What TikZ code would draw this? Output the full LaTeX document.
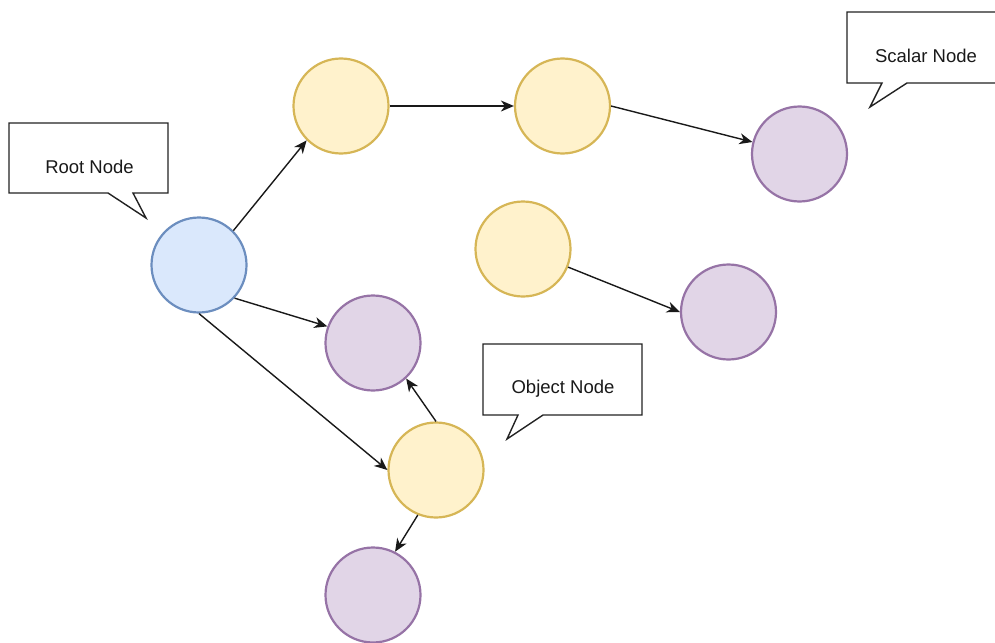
\documentclass[tikz,border=0pt]{standalone}
\usepackage{fontspec}
\setmainfont{Liberation Sans}
\usetikzlibrary{arrows.meta}
\definecolor{blueFill}{HTML}{DAE8FC}
\definecolor{blueLine}{HTML}{6C8EBF}
\definecolor{yelFill}{HTML}{FFF2CC}
\definecolor{yelLine}{HTML}{D6B656}
\definecolor{purFill}{HTML}{E1D5E7}
\definecolor{purLine}{HTML}{9673A6}
\definecolor{callLine}{HTML}{222222}
\tikzset{
  ball/.style={circle, minimum size=95pt, inner sep=0pt, line width=2.2pt},
  rootball/.style={ball, draw=blueLine, fill=blueFill},
  objball/.style={ball, draw=yelLine, fill=yelFill},
  leafball/.style={ball, draw=purLine, fill=purFill},
  link/.style={line width=1.4pt, draw=black!90, -{Stealth[length=13pt,width=11pt,inset=4pt]}},
  callout/.style={draw=callLine, fill=white, line width=1.4pt, line join=miter},
  calltext/.style={font=\fontsize{18.5}{20}\selectfont, inner sep=0pt, text=black!90}
}
\begin{document}
\begin{tikzpicture}[x=1pt,y=-1pt]
\useasboundingbox (0,0) rectangle (995,642);
\clip (0,0) rectangle (995,642);

% tree nodes
\node[rootball] (root) at (199,265) {};
\node[objball]  (y1)   at (341,106) {};
\node[objball]  (y2)   at (562.5,106) {};
\node[leafball] (p1)   at (799.5,154) {};
\node[objball]  (y3)   at (523,249) {};
\node[leafball] (p2)   at (728.5,312) {};
\node[leafball] (p3)   at (373,343) {};
\node[objball]  (y4)   at (436,470) {};
\node[leafball] (p4)   at (373,595) {};

% edges
\draw[link] (root.45) -- (y1.225);
\draw[link] (y1.east) -- (y2.west);
\draw[link] (y2.east) -- (p1);
\draw[link] (y3) -- (p2.west);
\draw[link] (root.-43) -- (p3.160);
\draw[link] (root.south) -- (y4.west);
\draw[link] (y4.north) -- (p3.-47);
\draw[link] (y4.-112) -- (p4.63);

% callouts
\draw[callout] (9,123) -- (168,123) -- (168,193) -- (133,193) -- (146,218) -- (108,193) -- (9,193) -- cycle;
\node[calltext] (rootlbl) at (89.5,167) {Root Node};

\draw[callout] (847,12) -- (1010,12) -- (1010,83) -- (907,83) -- (870,107) -- (882,83) -- (847,83) -- cycle;
\node[calltext] (scalarlbl) at (926,56) {Scalar Node};

\draw[callout] (483,344) -- (642,344) -- (642,415) -- (543,415) -- (507,439) -- (518,415) -- (483,415) -- cycle;
\node[calltext] (objlbl) at (563,389) {Object Node};
\end{tikzpicture}
\end{document}
